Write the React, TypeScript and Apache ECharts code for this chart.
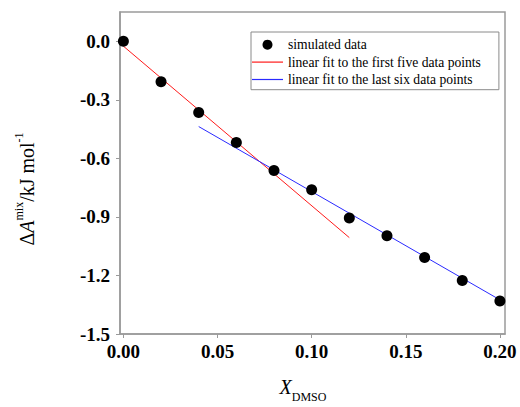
import React, { useEffect, useRef } from "react";
import * as echarts from "echarts";

const simX = [0, 0.02, 0.04, 0.06, 0.08, 0.1, 0.12, 0.14, 0.16, 0.18, 0.2];
const simY = [0, -0.207, -0.365, -0.519, -0.662, -0.761, -0.906, -0.997, -1.108, -1.226, -1.331];
const redFitX = [0, 0.12];
const redFitY = [-0.025, -1.006];
const blueFitX = [0.04, 0.2];
const blueFitY = [-0.437, -1.325];
const xTicks = [0, 0.05, 0.1, 0.15, 0.2];
const yTicks = [-1.5, -1.2, -0.9, -0.6, -0.3, 0];
const seriesNames = [
  "simulated data",
  "linear fit to the first five data points",
  "linear fit to the last six data points",
];

const FONT = "Liberation Serif";
const AXIS_COLOR = "#9a9a9a";
const RED = "#ff1a1a";
const BLUE = "#2a2aff";
const LINE_ICON = "path://M0,0 L31,0 L31,1.2 L0,1.2 Z";

export default function App() {
  const ref = useRef<HTMLDivElement>(null);
  useEffect(() => {
    if (!ref.current) return;
    const chart = echarts.init(ref.current, undefined, { renderer: "svg" });
    const zip = (xs: number[], ys: number[]) => xs.map((x, i) => [x, ys[i]]);
    chart.setOption({
      animation: false,
      backgroundColor: "#ffffff",
      textStyle: { fontFamily: FONT },
      grid: {
        left: 120,
        right: 15,
        top: 12,
        bottom: 73,
        show: true,
        borderColor: AXIS_COLOR,
        borderWidth: 1.5,
        backgroundColor: "transparent",
      },
      xAxis: {
        type: "value",
        min: -0.0018,
        max: 0.2027,
        axisLine: { show: true, onZero: false, lineStyle: { color: AXIS_COLOR, width: 1.5 } },
        axisTick: { show: true, inside: false, length: 4, customValues: xTicks, lineStyle: { color: AXIS_COLOR, width: 1 } },
        splitLine: { show: false },
        axisLabel: {
          customValues: xTicks,
          formatter: (v: number) => v.toFixed(2),
          fontFamily: FONT,
          fontWeight: "bold",
          fontSize: 19,
          color: "#000",
          margin: 8,
        },
      },
      yAxis: {
        type: "value",
        min: -1.5,
        max: 0.15,
        axisLine: { show: true, onZero: false, lineStyle: { color: AXIS_COLOR, width: 1.5 } },
        axisTick: { show: true, inside: false, length: 4, customValues: yTicks, lineStyle: { color: AXIS_COLOR, width: 1 } },
        splitLine: { show: false },
        axisLabel: {
          customValues: yTicks,
          formatter: (v: number) => v.toFixed(1),
          fontFamily: FONT,
          fontWeight: "bold",
          fontSize: 19,
          color: "#000",
          margin: 10,
        },
      },
      legend: {
        orient: "vertical",
        left: 251,
        top: 32,
        padding: [4, 18, 1.5, 1],
        itemWidth: 31,
        itemHeight: 10,
        itemGap: 0,
        borderColor: "#8a8a8a",
        borderWidth: 1,
        data: [
          { name: seriesNames[0], icon: "circle", itemStyle: { color: "#000" } },
          { name: seriesNames[1], icon: LINE_ICON, itemStyle: { color: RED } },
          { name: seriesNames[2], icon: LINE_ICON, itemStyle: { color: BLUE } },
        ],
        textStyle: { fontFamily: FONT, fontSize: 13.6, color: "#000", lineHeight: 17.4 },
      },
      graphic: [
        {
          type: "text",
          x: 25,
          y: 189,
          rotation: Math.PI / 2,
          style: {
            text: "{d|Δ}{a|A}{sup|mix}{n|/kJ mol}{sup|-1}",
            align: "center",
            verticalAlign: "middle",
            fill: "#000",
            rich: {
              d: { fontFamily: FONT, fontSize: 20, lineHeight: 24, verticalAlign: "bottom" },
              a: { fontFamily: FONT, fontSize: 20, fontStyle: "italic", lineHeight: 24, verticalAlign: "bottom" },
              n: { fontFamily: FONT, fontSize: 20, lineHeight: 24, verticalAlign: "bottom" },
              sup: { fontFamily: FONT, fontSize: 12, lineHeight: 12, verticalAlign: "top" },
            },
          },
        },
        {
          type: "text",
          x: 303,
          y: 390,
          style: {
            text: "{x|X}{sub|DMSO}",
            align: "center",
            verticalAlign: "middle",
            fill: "#000",
            rich: {
              x: { fontFamily: FONT, fontSize: 20, fontStyle: "italic", lineHeight: 26, verticalAlign: "top" },
              sub: { fontFamily: FONT, fontSize: 12, lineHeight: 12, verticalAlign: "bottom" },
            },
          },
        },
      ],
      series: [
        {
          name: seriesNames[0],
          type: "scatter",
          data: zip(simX, simY),
          symbol: "circle",
          symbolSize: 11,
          itemStyle: { color: "#000", opacity: 1 },
          z: 5,
        },
        {
          name: seriesNames[1],
          type: "line",
          data: zip(redFitX, redFitY),
          symbol: "none",
          color: RED,
          lineStyle: { color: RED, width: 1 },
          itemStyle: { color: RED },
        },
        {
          name: seriesNames[2],
          type: "line",
          data: zip(blueFitX, blueFitY),
          symbol: "none",
          color: BLUE,
          lineStyle: { color: BLUE, width: 1 },
          itemStyle: { color: BLUE },
        },
      ],
    });
    return () => chart.dispose();
  }, []);
  return (
    <div
      ref={ref}
      style={{ position: "absolute", left: 0, top: 0, width: 520, height: 407 }}
    />
  );
}
